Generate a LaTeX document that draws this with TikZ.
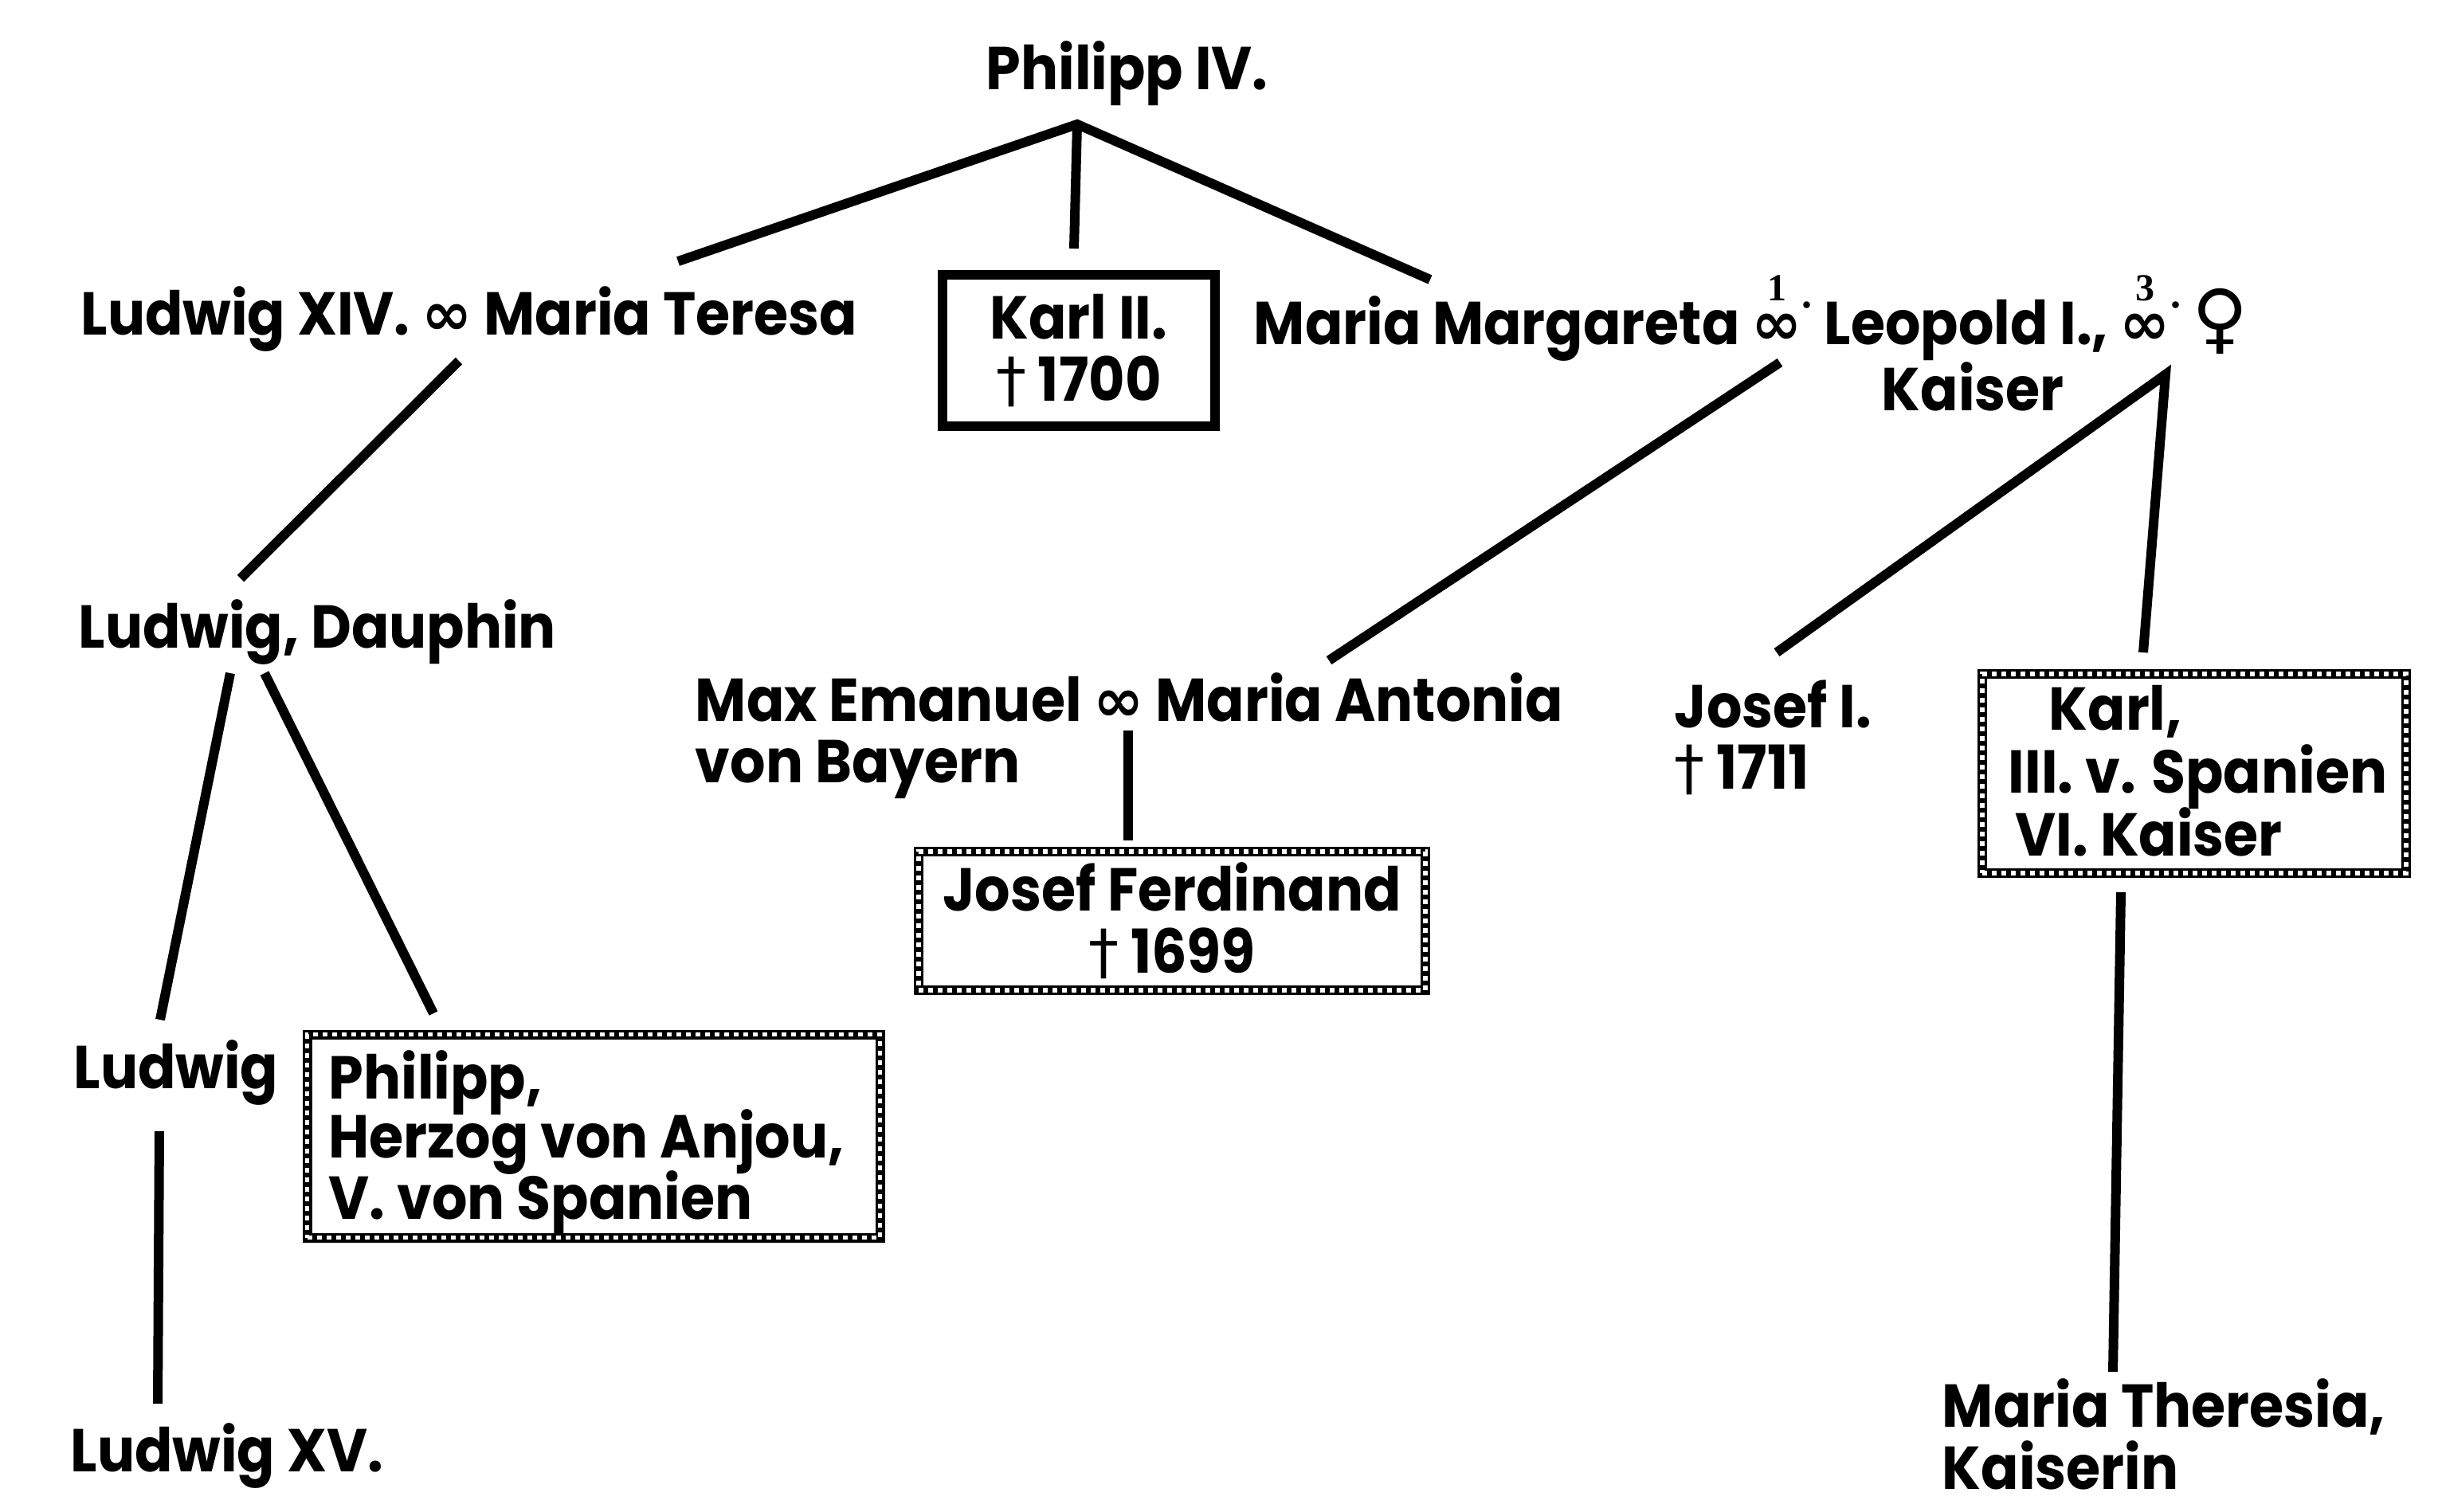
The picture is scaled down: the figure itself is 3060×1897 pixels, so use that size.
\documentclass[tikz,border=0pt]{standalone}
\usepackage{fontspec}
\setmainfont{Poppins}[FakeStretch=0.92]
\newfontfamily\symf{DejaVu Sans}
\newfontfamily\serf{Liberation Serif}
\newcommand\inff{{\symf ∞}}
\newcommand\dg{{\symf\mdseries †}}
\newcommand\mymarr[1]{\ooalign{\symf ∞\cr\hidewidth\raisebox{0.72em}{\fontsize{12}{12}\selectfont\serf\bfseries #1}\hidewidth\cr}\raisebox{0.6em}{\fontsize{13}{13}\selectfont\serf\bfseries .}}
\tikzset{
  lbl/.style={anchor=base west, inner sep=0pt, font=\fontsize{19}{19.5}\selectfont\bfseries},
  conn/.style={line width=3pt},
  plainbox/.style={draw, line width=3pt, inner sep=0pt, align=center, font=\fontsize{19}{19.5}\selectfont\bfseries},
  chainbox/.style={draw, line width=3pt, inner sep=0pt, align=center, font=\fontsize{19}{19.5}\selectfont\bfseries,
    postaction={draw=white, line width=1.4pt, dash pattern=on 1.5pt off 1.5pt}},
}
\begin{document}
\begin{tikzpicture}[x=0.25pt,y=-0.25pt]
\useasboundingbox[fill=white] (0,0) rectangle (3060,1897);
% top
\node[lbl] (philipp) at (1237,112) {Philipp IV.};
\node[lbl] (lxiv) at (101,420) {Ludwig XIV. \inff{} Maria Teresa};
\node[plainbox, minimum width=85.5pt, minimum height=47.5pt] (karl2) at (1354,440) {Karl II.\\\dg{} 1700};
\node[lbl] (mm) at (1573,432) {Maria Margareta \mymarr{1} Leopold I., \mymarr{3} {\symf\fontsize{24}{24}\selectfont ♀}};
\node[lbl] (kaiser) at (2361,515) {Kaiser};
% left branch
\node[lbl] (dauphin) at (98,813) {Ludwig, Dauphin};
\node[lbl] (ludwig) at (92,1366) {Ludwig};
\node[chainbox, minimum width=179.75pt, minimum height=63.75pt] (philbox) at (745,1426) {};
\node[lbl] (ph1) at (412,1379) {Philipp,};
\node[lbl] (ph2) at (412,1453) {Herzog von Anjou,};
\node[lbl] (ph3) at (412,1530) {V. von Spanien};
\node[lbl] (lxv) at (88,1847) {Ludwig XV.};
% middle branch
\node[lbl] (max) at (872,905) {Max Emanuel \inff{} Maria Antonia};
\node[lbl] (bayern) at (872,982) {von Bayern};
\node[chainbox, minimum width=159pt, minimum height=43.5pt] (josefF) at (1471,1156) {Josef Ferdinand\\\dg{} 1699};
% right branch
\node[lbl] (josef) at (2101,913) {Josef I.};
\node[lbl] (josefd) at (2101,990) {\dg{} 1711};
\node[chainbox, minimum width=133pt, minimum height=62.5pt] (karl6) at (2754,971) {};
\node[lbl] (k1) at (2571,916) {Karl,};
\node[lbl] (k2) at (2520,995) {III. v. Spanien};
\node[lbl] (k3) at (2529,1074) {VI. Kaiser};
\node[lbl] (mt) at (2437,1791) {Maria Theresia,};
\node[lbl] (mtk) at (2437,1869) {Kaiserin};
% connector points
\coordinate (p0) at (1352,156);
\coordinate (a1) at (851,328);
\coordinate (a2) at (1348,312);
\coordinate (a3) at (1795,351);
\coordinate (b0) at (576,453);
\coordinate (b1) at (302,726);
\coordinate (c0) at (289,845);
\coordinate (c1) at (201,1280);
\coordinate (d0) at (332,845);
\coordinate (d1) at (544,1272);
\coordinate (e0) at (200,1420);
\coordinate (e1) at (198,1762);
\coordinate (f0) at (2234,455);
\coordinate (f1) at (1668,829);
\coordinate (g0) at (1416,917);
\coordinate (g1) at (1416,1055);
\coordinate (h0) at (2718,470);
\coordinate (h1) at (2230,819);
\coordinate (h2) at (2690,819);
\coordinate (m0) at (2662,1120);
\coordinate (m1) at (2652,1722);
\draw[conn] (a1) -- (p0) -- (a3);
\draw[conn] (p0) -- (a2);
\draw[conn] (b0) -- (b1);
\draw[conn] (c0) -- (c1);
\draw[conn] (d0) -- (d1);
\draw[conn] (e0) -- (e1);
\draw[conn] (f0) -- (f1);
\draw[conn] (g0) -- (g1);
\draw[conn] (h1) -- (h0) -- (h2);
\draw[conn] (m0) -- (m1);
\end{tikzpicture}
\end{document}
